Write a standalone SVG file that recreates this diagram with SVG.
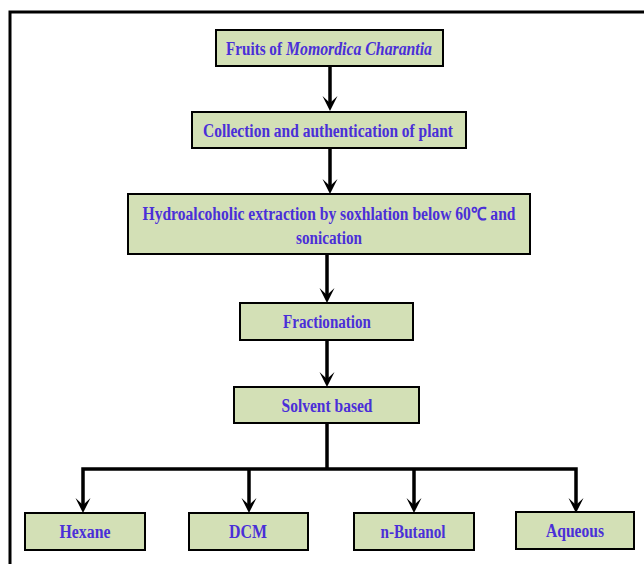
<svg xmlns="http://www.w3.org/2000/svg" width="644" height="564" viewBox="0 0 644 564">
<style>
.box{fill:#d3e0b6;stroke:#000;stroke-width:2}
.t{font-family:"Liberation Serif","Times New Roman",serif;font-weight:bold;font-size:18px;fill:#4a2fd8;text-anchor:middle}
.c{stroke:#000;stroke-width:3.5;fill:none}
</style>
<defs>
<g id="arrowhead"><path d="M-7.5,-15 L0,0 L7.5,-15 L0,-8 Z" fill="#000"/></g>
</defs>
<rect x="0" y="0" width="644" height="564" fill="#fff"/>
<path d="M10,564 V12 H644" fill="none" stroke="#000" stroke-width="3"/>
<g id="connectors">
<line class="c" x1="330" y1="66" x2="330" y2="104"/><use href="#arrowhead" x="330" y="111"/>
<line class="c" x1="330" y1="148" x2="330" y2="187"/><use href="#arrowhead" x="330" y="194"/>
<line class="c" x1="327" y1="254" x2="327" y2="296"/><use href="#arrowhead" x="327" y="303"/>
<line class="c" x1="327" y1="340" x2="327" y2="380"/><use href="#arrowhead" x="327" y="387"/>
<polyline class="c" points="327,423 327,469"/>
<polyline class="c" points="83,506 83,469 576,469 576,506"/>
<line class="c" x1="249" y1="469" x2="249" y2="506"/>
<line class="c" x1="414" y1="469" x2="414" y2="506"/>
<use href="#arrowhead" x="83" y="513"/><use href="#arrowhead" x="249" y="513"/>
<use href="#arrowhead" x="414" y="513"/><use href="#arrowhead" x="576" y="513"/>
</g>
<g id="n1"><rect class="box" x="216" y="30" width="227" height="36"/>
<text class="t" x="226" y="55" style="text-anchor:start" textLength="56" lengthAdjust="spacingAndGlyphs">Fruits of</text>
<text class="t" x="286" y="55" style="text-anchor:start;font-style:italic" textLength="146" lengthAdjust="spacingAndGlyphs">Momordica Charantia</text></g>
<g id="n2"><rect class="box" x="192" y="112" width="274" height="36"/>
<text class="t" x="328" y="137" textLength="250" lengthAdjust="spacingAndGlyphs">Collection and authentication of plant</text></g>
<g id="n3"><rect class="box" x="128" y="194" width="402" height="60"/>
<text class="t" x="329" y="220" textLength="373" lengthAdjust="spacingAndGlyphs">Hydroalcoholic extraction by soxhlation below 60℃ and</text>
<text class="t" x="329" y="244" textLength="66" lengthAdjust="spacingAndGlyphs">sonication</text></g>
<g id="n4"><rect class="box" x="240" y="303" width="173" height="37"/>
<text class="t" x="327" y="328" textLength="88" lengthAdjust="spacingAndGlyphs">Fractionation</text></g>
<g id="n5"><rect class="box" x="234" y="387" width="185" height="36"/>
<text class="t" x="327" y="412" textLength="91" lengthAdjust="spacingAndGlyphs">Solvent based</text></g>
<g id="n6"><rect class="box" x="25" y="513" width="120" height="37"/>
<text class="t" x="85" y="538" textLength="51" lengthAdjust="spacingAndGlyphs">Hexane</text></g>
<g id="n7"><rect class="box" x="189" y="513" width="119" height="37"/>
<text class="t" x="248" y="538" textLength="38" lengthAdjust="spacingAndGlyphs">DCM</text></g>
<g id="n8"><rect class="box" x="354" y="513" width="120" height="37"/>
<text class="t" x="413" y="538" textLength="65" lengthAdjust="spacingAndGlyphs">n-Butanol</text></g>
<g id="n9"><rect class="box" x="516" y="512" width="118" height="37"/>
<text class="t" x="575" y="537" textLength="58" lengthAdjust="spacingAndGlyphs">Aqueous</text></g>
</svg>
